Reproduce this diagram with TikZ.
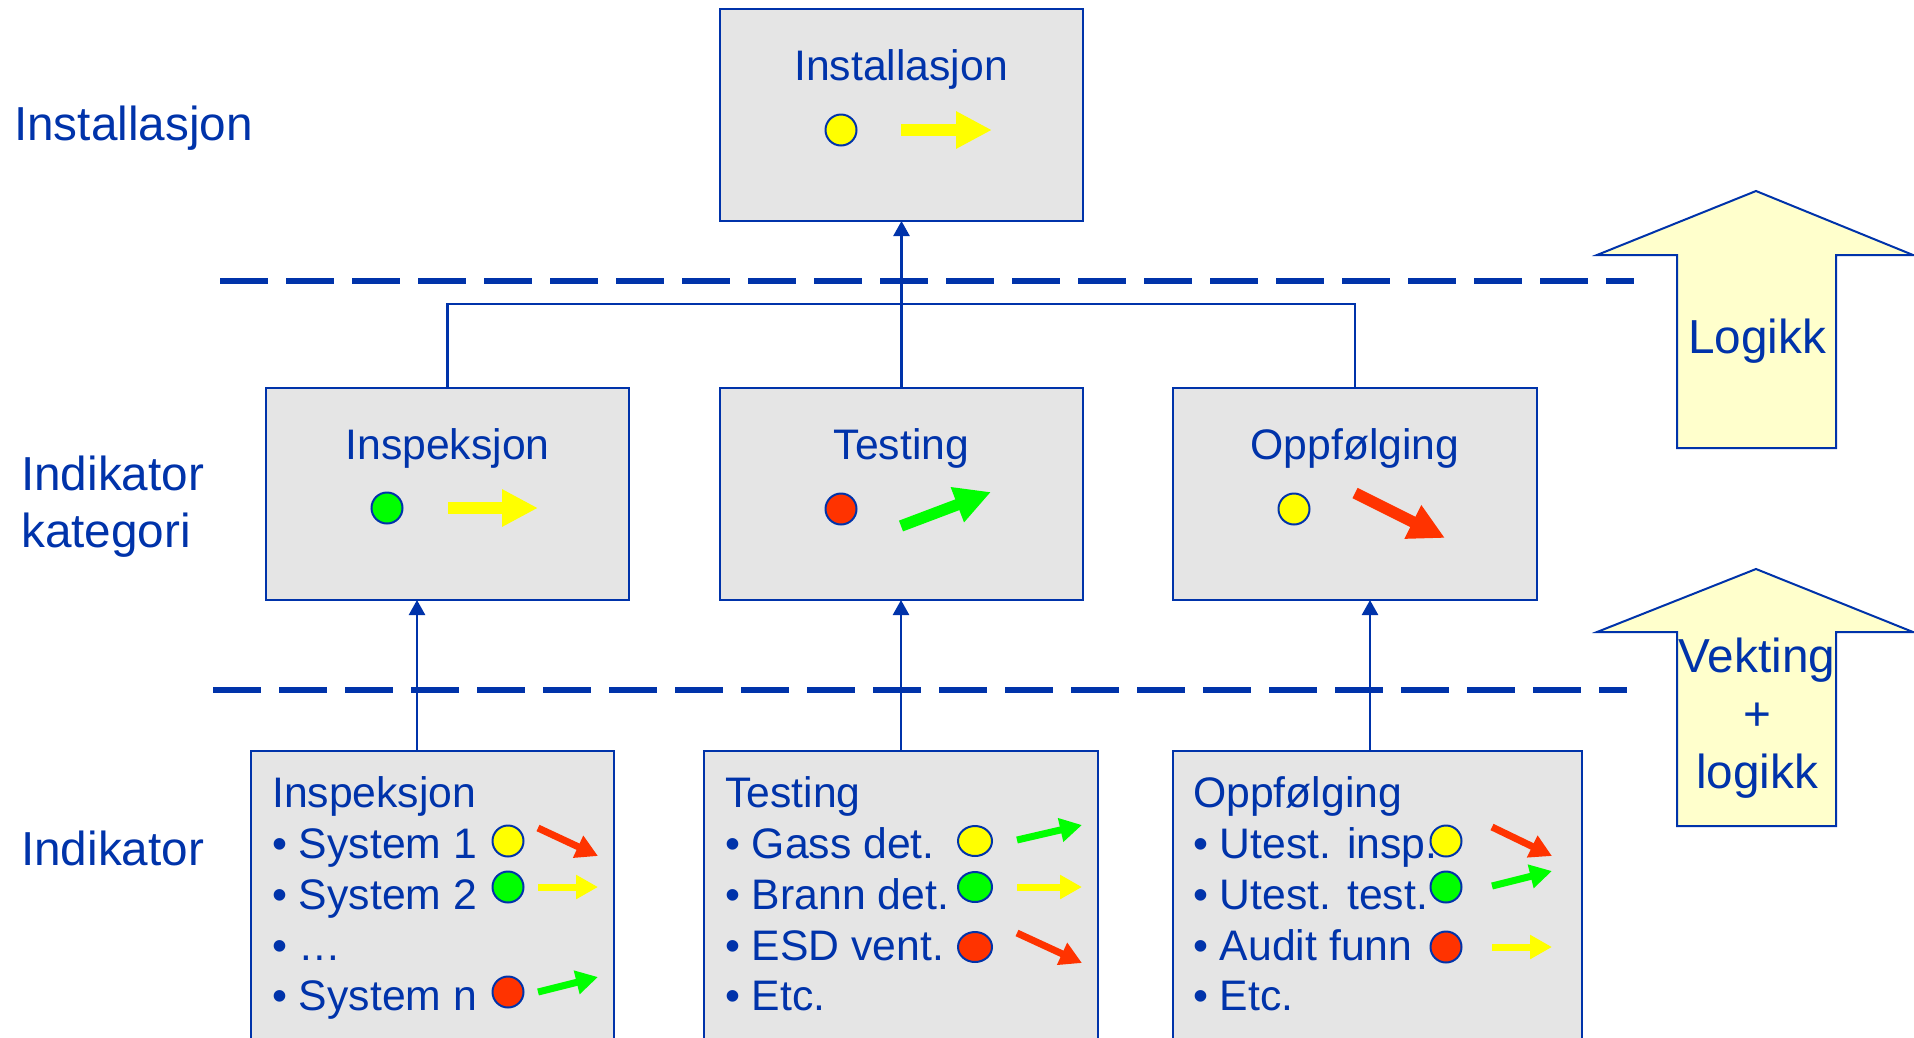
\documentclass[tikz,border=0pt]{standalone}
\usepackage{fontspec}
\setmainfont{Liberation Sans}
\usetikzlibrary{arrows.meta,calc,shapes.geometric}

\definecolor{ink}{RGB}{0,51,170}
\definecolor{boxgray}{RGB}{229,229,229}
\definecolor{notefill}{RGB}{255,255,204}
\definecolor{sigyel}{RGB}{255,255,0}
\definecolor{siggrn}{RGB}{0,255,0}
\definecolor{sigred}{RGB}{255,51,0}

\tikzset{
  panel/.style={draw=ink, line width=2.5pt, fill=boxgray, inner sep=0pt, outer sep=0pt, anchor=north west},
  conn/.style={draw=ink, line width=2.5pt},
  upconn/.style={conn, -{Triangle[width=16pt,length=15pt]}},
  level/.style={draw=ink, line width=6pt, dash pattern=on 48pt off 18pt},
  lamp/.style={circle, draw=ink, line width=2pt, minimum size=31pt, inner sep=0pt},
  oval/.style={ellipse, draw=ink, line width=2pt, minimum width=34pt, minimum height=30pt, inner sep=0pt},
  bigtrend/.style={line width=11.5pt, -{Triangle[width=35pt,length=36pt]}},
  trend/.style={line width=7pt, -{Triangle[width=23pt,length=22pt]}},
  txt/.style={text=ink, font=\fontsize{42.7}{50}\selectfont, inner sep=0pt, anchor=base west},
  ctxt/.style={txt, anchor=base},
  lbl/.style={text=ink, font=\fontsize{47.7}{56}\selectfont, inner sep=0pt, anchor=base west},
  clbl/.style={lbl, anchor=base},
  flow/.style={draw=ink, line width=2pt, fill=notefill, line join=miter},
}

\begin{document}
\begin{tikzpicture}[x=1pt, y=-1pt]
\useasboundingbox (0,0) rectangle (1914,1037);
\clip (0,0) rectangle (1914,1037);

% level separators
\draw[level] (220,281) -- (1634,281);
\draw[level] (213,690) -- (1627,690);

% row labels
\node[lbl] (lInst) at (14,140) {Installasjon};
\node[lbl] (lKat1) at (21,490) {Indikator};
\node[lbl] (lKat2) at (21,547) {kategori};
\node[lbl] (lInd) at (21,865) {Indikator};

% wide arrows on the right
\draw[flow] (1756,191) -- (1913,255) -- (1836,255) -- (1836,448) -- (1677,448) -- (1677,255) -- (1597,255) -- cycle;
\node[clbl] (logikk) at (1757,353) {Logikk};
\draw[flow] (1756,569) -- (1913,632) -- (1836,632) -- (1836,826) -- (1677,826) -- (1677,632) -- (1597,632) -- cycle;
\node[clbl] (vekt1) at (1757,672) {Vekting};
\node[clbl] (vekt2) at (1757,730) {+};
\node[clbl] (vekt3) at (1757,788) {logikk};

% installation box
\node[panel, minimum width=363pt, minimum height=212pt] (top) at (720,9) {};
\node[ctxt] (topT) at (901,80) {Installasjon};
\node[lamp, fill=sigyel] (topL) at (841,130) {};
\draw[bigtrend, sigyel] (901,130) -- (992,130);

% category boxes
\node[panel, minimum width=363pt, minimum height=212pt] (minsp) at (266,388) {};
\node[panel, minimum width=363pt, minimum height=212pt] (mtest) at (720,388) {};
\node[panel, minimum width=364pt, minimum height=212pt] (mopp) at (1173,388) {};

\node[ctxt] (minspT) at (447.5,459) {Inspeksjon};
\node[lamp, fill=siggrn] (minspL) at (387,508) {};
\draw[bigtrend, sigyel] (448,508) -- (538,508);

\node[ctxt] (mtestT) at (901.5,459) {Testing};
\node[lamp, fill=sigred] (mtestL) at (841,509) {};
\draw[bigtrend, siggrn] (901,526) -- (991,492);

\node[ctxt] (moppT) at (1355,459) {Oppfølging};
\node[lamp, fill=sigyel] (moppL) at (1294,509) {};
\draw[bigtrend, sigred] (1355,493) -- (1445,538);

% indicator boxes
\node[panel, minimum width=363pt, minimum height=320pt] (binsp) at (251,751) {};
\node[panel, minimum width=394pt, minimum height=320pt] (btest) at (704,751) {};
\node[panel, minimum width=409pt, minimum height=320pt] (bopp) at (1173,751) {};

\node[txt] (binspT) at (272,807) {Inspeksjon};
\node[txt] (binsp1) at (272,858) {• System 1};
\node[txt] (binsp2) at (272,909) {• System 2};
\node[txt] (binsp3) at (272,960) {• …};
\node[txt] (binsp4) at (272,1010) {• System n};
\node[lamp, fill=sigyel] (binspL1) at (508,841) {};
\node[lamp, fill=siggrn] (binspL2) at (508,887) {};
\node[lamp, fill=sigred] (binspL4) at (508,992) {};
\draw[trend, sigred] (538,828) -- (598,856);
\draw[trend, sigyel] (538,887) -- (598,887);
\draw[trend, siggrn] (538,992) -- (598,977);

\node[txt] (btestT) at (725,807) {Testing};
\node[txt] (btest1) at (725,858) {• Gass det.};
\node[txt] (btest2) at (725,909) {• Brann det.};
\node[txt] (btest3) at (725,960) {• ESD vent.};
\node[txt] (btest4) at (725,1010) {• Etc.};
\node[oval, fill=sigyel] (btestL1) at (975,841) {};
\node[oval, fill=siggrn] (btestL2) at (975,887) {};
\node[oval, fill=sigred] (btestL3) at (975,947) {};
\draw[trend, siggrn] (1017,840) -- (1082,825);
\draw[trend, sigyel] (1017,887) -- (1082,887);
\draw[trend, sigred] (1017,933) -- (1082,963);

\node[txt] (boppT) at (1193,807) {Oppfølging};
\node[txt] (bopp1) at (1193,858) {• Utest. insp.};
\node[txt] (bopp2) at (1193,909) {• Utest. test.};
\node[txt] (bopp3) at (1193,960) {• Audit funn};
\node[txt] (bopp4) at (1193,1010) {• Etc.};
\node[lamp, fill=sigyel] (boppL1) at (1446,841) {};
\node[lamp, fill=siggrn] (boppL2) at (1446,887) {};
\node[lamp, fill=sigred] (boppL3) at (1446,947) {};
\draw[trend, sigred] (1492,827) -- (1552,856);
\draw[trend, siggrn] (1492,886) -- (1552,871);
\draw[trend, sigyel] (1492,947) -- (1552,947);

% connectors: categories to installation
\draw[conn] (minsp.north) -- ++(0,-84) -| (mopp.north);
\draw[upconn] (mtest.north) -- (top.south);

% connectors: indicators to categories
\coordinate (cInsp) at ($(binsp.north west)+(166,0)$);
\coordinate (cOpp) at ($(bopp.north west)+(197,0)$);
\draw[upconn] (cInsp) -- (cInsp |- minsp.south);
\draw[upconn] (btest.north) -- (btest.north |- mtest.south);
\draw[upconn] (cOpp) -- (cOpp |- mopp.south);
\end{tikzpicture}
\end{document}
